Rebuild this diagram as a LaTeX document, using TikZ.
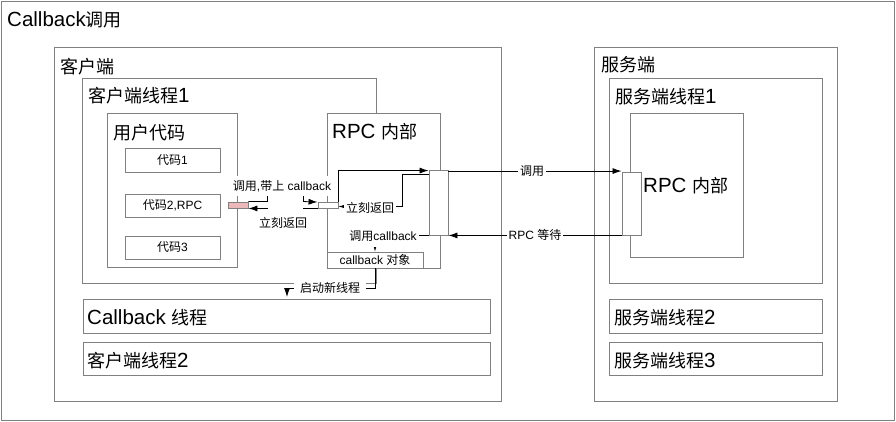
\documentclass[tikz,border=0pt]{standalone}
\usepackage{fontspec}
\setmainfont{Liberation Sans}
\newfontfamily\cjkfont{Noto Sans CJK SC}
\newcommand\zh[1]{{\cjkfont #1}}
\newcommand\zhT[1]{{\cjkfont\fontsize{18}{20}\selectfont #1}}
\usetikzlibrary{arrows.meta,fit,calc}
\definecolor{bordergray}{HTML}{808080}
\definecolor{pinkfill}{HTML}{EBB9B9}
\begin{document}
\begin{tikzpicture}[x=1pt,y=-1pt,
 box/.style={draw=bordergray,line width=0.9pt,inner sep=0pt},
 ttl/.style={anchor=west,inner sep=0pt,font=\fontsize{20.5}{22}\selectfont},
 smbox/.style={draw=bordergray,line width=0.9pt,inner sep=0pt,fill=white,font=\fontsize{12}{14}\selectfont},
 lbl/.style={fill=white,inner xsep=2pt,inner ysep=4pt,font=\fontsize{12}{14}\selectfont},
 arr/.style={draw=black,line width=0.8pt,-{Latex[length=9pt,width=6pt]}}]
\useasboundingbox (0,0) rectangle (896,422);
% frames
\node[box,fit={(1.5,1.5) (894,420.5)}] (outer) {};
\node[box,fit={(54,47) (501,401)}] (client) {};
\node[box,fit={(594,47) (837,401)}] (server) {};
\node[box,fit={(82,78) (376,283)}] (cthread1) {};
\node[box,fill=white,fit={(107,113) (237,267)}] (user) {};
\node[smbox,minimum width=95pt,minimum height=24pt] (code1) at (172.5,160) {\zh{代码}1};
\node[smbox,minimum width=95pt,minimum height=23pt] (code2) at (172.5,205.5) {\zh{代码}2,RPC};
\node[smbox,minimum width=95pt,minimum height=23pt] (code3) at (172.5,247.5) {\zh{代码}3};
\node[box,fill=white,fit={(327,113) (440,268)}] (crpc) {};
\node[smbox,minimum width=96pt,minimum height=16pt] (cbobj) at (375,260) {callback \zh{对象}};
\node[box,fit={(83,299) (490,333)}] (cbthread) {};
\node[box,fit={(83,342) (490,375)}] (cthread2) {};
\node[box,fit={(609,78) (822,283)}] (sthread1) {};
\node[box,fit={(630,113) (743,257)}] (srpc) {};
\node[box,fit={(609,299) (822,333)}] (sthread2) {};
\node[box,fit={(609,342) (822,375)}] (sthread3) {};
\node[box,fill=pinkfill,fit={(228,202) (248,208)}] (red) {};
\node[box,fill=white,fit={(318,202) (338,208)}] (cb) {};
\node[box,fill=white,fit={(429,170) (448,235)}] (ctall) {};
\node[box,fill=white,fit={(622,172) (641,235)}] (sact) {};
% titles
\node[ttl] (t0) at (7,20) {Callback\zhT{调用}};
\node[ttl] (t1) at (60,67) {\zhT{客户端}};
\node[ttl] (t2) at (88,96) {\zhT{客户端线程}1};
\node[ttl] (t3) at (113,133) {\zhT{用户代码}};
\node[ttl] (t4) at (332,132) {RPC \zhT{内部}};
\node[ttl] (t5) at (601,65) {\zhT{服务端}};
\node[ttl] (t6) at (615,97) {\zhT{服务端线程}1};
\node[ttl] (t7) at (643,186) {RPC \zhT{内部}};
\node[ttl] (t8) at (87,318) {Callback \zhT{线程}};
\node[ttl] (t9) at (87,361) {\zhT{客户端线程}2};
\node[ttl] (t10) at (614,318) {\zhT{服务端线程}2};
\node[ttl] (t11) at (614,361) {\zhT{服务端线程}3};
% connectors
\coordinate (l1) at (282,186);
\draw[arr] (red.north east) -- ++(19,0) |- (l1) -| ([xshift=-14pt]cb.north west) -- ([yshift=-0.5pt]cb.north west);
\node[lbl] (lab1) at (l1) {\zh{调用},\zh{带上} callback};
\coordinate (l2) at (283,223);
\draw[arr] (cb.south west) -- ++(-14,0) |- (l2) -| ([xshift=19pt]red.south east) -- (red.south east);
\node[lbl,inner ysep=8.5pt,inner xsep=1pt] (lab2) at (l2) {\zh{立刻返回}};
\draw[arr] (cb.north east) |- ([yshift=-1pt]ctall.north west);
\coordinate (l3) at (370,208);
\draw[arr] ([yshift=-5pt]ctall.north west) -- ++(-26,0) |- ([yshift=-1.5pt]cb.east);
\node[lbl] (lab3) at (l3) {\zh{立刻返回}};
\coordinate (l4) at (383,236);
\draw[arr] (ctall.south west) -| (cbobj.north);
\node[lbl,inner ysep=6pt] (lab4) at (l4) {\zh{调用}callback};
\coordinate (l5) at (330,288);
\coordinate (t6end) at (287,297);
\draw[arr] (cbobj.south) |- (l5) -| (t6end);
\node[lbl,inner xsep=6pt,inner ysep=5pt] (lab5) at (l5) {\zh{启动新线程}};
\draw[arr] ([yshift=-1.5pt]ctall.north east) -- ([yshift=-1.5pt]ctall.north east -| sact.west);
\node[lbl] (lab6) at (532,171.5) {\zh{调用}};
\draw[arr] (sact.south west) -- (sact.south west -| ctall.east);
\node[lbl] (lab7) at (535,235) {RPC \zh{等待}};
\end{tikzpicture}
\end{document}
